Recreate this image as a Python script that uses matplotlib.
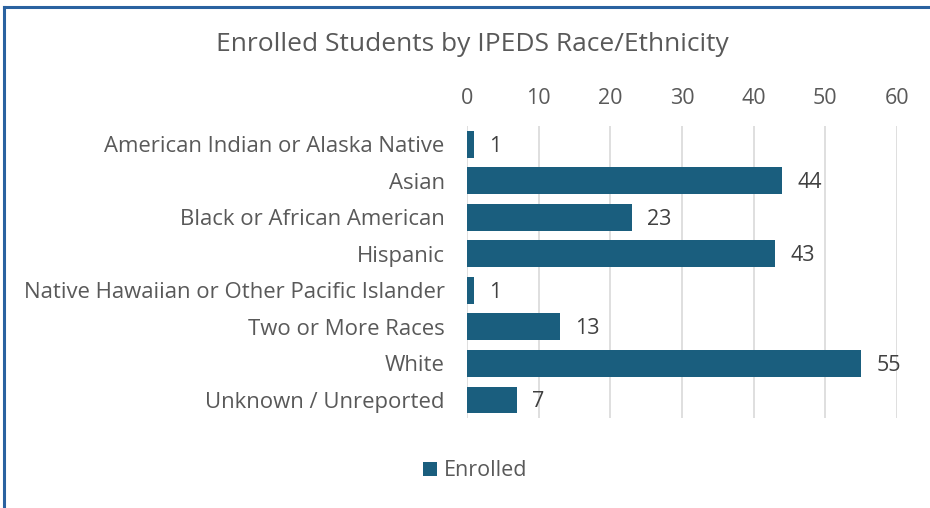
import matplotlib
matplotlib.use('Agg')
import matplotlib.pyplot as plt
from matplotlib.lines import Line2D

categories = ['American Indian or Alaska Native', 'Asian', 'Black or African American',
              'Hispanic', 'Native Hawaiian or Other Pacific Islander', 'Two or More Races',
              'White', 'Unknown / Unreported']
enrolled = [1, 44, 23, 43, 1, 13, 55, 7]
ticks = [0, 10, 20, 30, 40, 50, 60]

BAR = '#1a5e7e'
TXT = '#595959'
plt.rcParams['font.family'] = ['Open Sans', 'DejaVu Sans']

fig = plt.figure(figsize=(9.3, 5.08), dpi=100)
ax = fig.add_axes([0.502, 0.177, 0.4625, 0.575])

y = list(range(len(categories)))
bars = ax.barh(y, enrolled, height=0.73, color=BAR, label='Enrolled', zorder=3)
for yi, v in zip(y, enrolled):
    ax.text(v + 2.1, yi + 0.05, str(v), va='center', ha='left', fontsize=15.5, color='#404040')

ax.set_ylim(len(categories) - 0.5, -0.5)
ax.set_xlim(0, 60)
ax.set_yticks(y)
ax.set_yticklabels(categories, fontsize=15.9, color=TXT)
ax.set_xticks(ticks)
ax.xaxis.tick_top()
ax.tick_params(axis='x', labelsize=15.5, labelcolor=TXT, length=0, pad=12)
ax.tick_params(axis='y', length=0, pad=16)
ax.grid(axis='x', color='#d9d9d9', linewidth=1.2, zorder=0)
for s in ax.spines.values():
    s.set_visible(False)

fig.text(0.508, 0.912, 'Enrolled Students by IPEDS Race/Ethnicity', ha='center', va='center',
         fontsize=19, color=TXT)

fig.legend(handles=bars[:1], labels=['Enrolled'], loc='center', bbox_to_anchor=(0.511, 0.073),
           frameon=False, fontsize=15.5, labelcolor=TXT, handlelength=0.65, handleheight=0.65,
           handletextpad=0.3)

# outer border (top and left edges of the chart frame)
fig.add_artist(Line2D([0.0045, 1.0], [0.987, 0.987], color='#2a62a0', linewidth=2.2))
fig.add_artist(Line2D([0.0045, 0.0045], [0.0, 0.987], color='#2a62a0', linewidth=2.2))

fig.savefig('out.png', dpi=100, facecolor='white')
